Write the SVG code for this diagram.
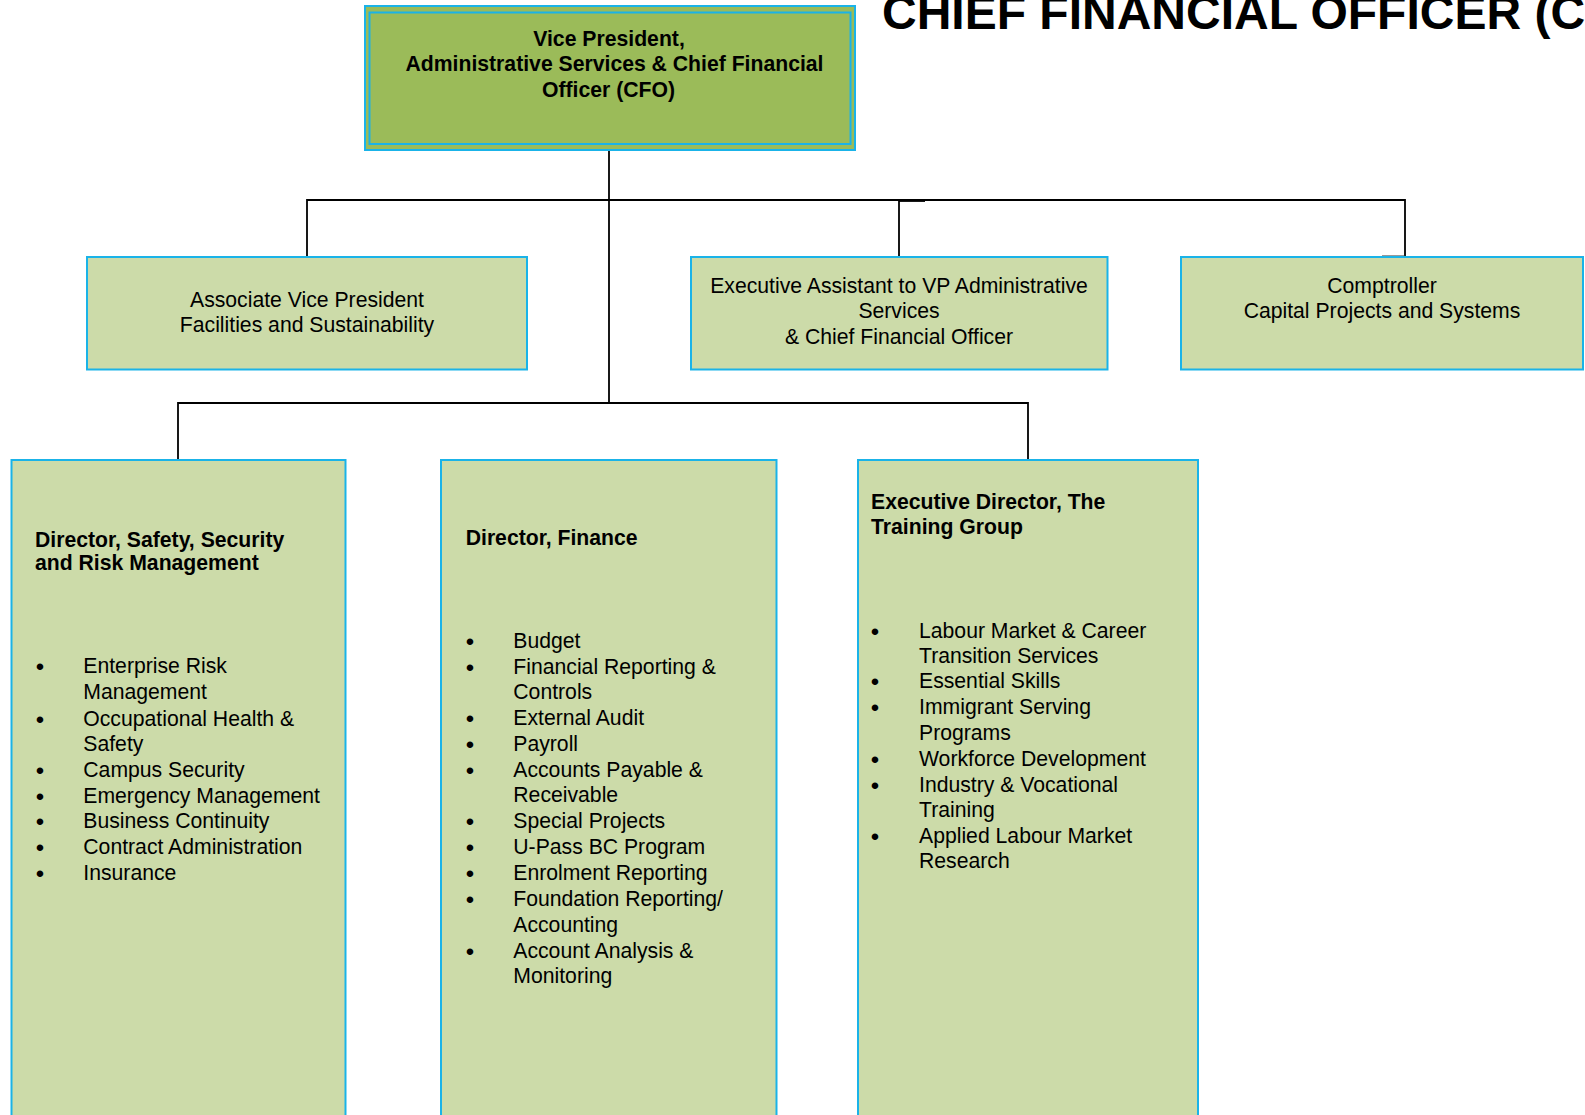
<svg xmlns="http://www.w3.org/2000/svg" width="1585" height="1115" viewBox="0 0 1585 1115">
<style>
.box{fill:#CCDBA9;stroke:#1AB3E8;stroke-width:2}
.top{fill:#9BBB59;stroke:#1AB3E8;stroke-width:2}
.inner{fill:none;stroke:#1AB3E8;stroke-width:2}
.t{font-family:"Liberation Sans",Arial,Helvetica,sans-serif;font-size:21.2px;fill:#000}
.b{font-weight:bold}
.c{text-anchor:middle}
.bul{font-family:"Liberation Sans",Arial,sans-serif;font-size:24px;fill:#000;text-anchor:middle}
.conn{stroke:#000;stroke-width:1.8;fill:none}
.title{font-family:"Liberation Sans",Arial,Helvetica,sans-serif;font-size:48px;font-weight:bold;fill:#000}
</style>
<rect width="1585" height="1115" fill="#fff"/>
<text class="title" x="882" y="28.5">CHIEF FINANCIAL OFFICER (C</text>

<g id="connectors">
<path class="conn" d="M609,150 V403"/>
<path class="conn" d="M307,257 V200 H1405 V257"/>
<path class="conn" d="M899,200 V257"/>
<path class="conn" d="M178,460 V403 H1028 V460"/>
<path d="M899,200.6 H925" stroke="#000" stroke-width="2.6"/>
<path d="M1382,256.5 H1405" stroke="#333" stroke-width="2"/>
</g>

<g id="vp-cfo">
<rect class="top" x="365" y="6" width="490" height="144"/>
<rect class="inner" x="369.5" y="12.5" width="481" height="131.5"/>
<text class="t b c" x="609" y="45.7">Vice President,</text>
<text class="t b c" x="614.5" y="71">Administrative Services &amp; Chief Financial</text>
<text class="t b c" x="608.5" y="96.7">Officer (CFO)</text>
</g>

<g id="avp-facilities">
<rect class="box" x="87" y="257" width="440" height="112.5"/>
<text class="t c" x="307" y="306.7">Associate Vice President</text>
<text class="t c" x="307" y="331.7">Facilities and Sustainability</text>
</g>

<g id="exec-assistant">
<rect class="box" x="691" y="257" width="416.5" height="112.5"/>
<text class="t c" x="899" y="293.3">Executive Assistant to VP Administrative</text>
<text class="t c" x="899" y="318.3">Services</text>
<text class="t c" x="899" y="344.3">&amp; Chief Financial Officer</text>
</g>

<g id="comptroller">
<rect class="box" x="1181" y="257" width="402" height="112.5"/>
<text class="t c" x="1382" y="293.3">Comptroller</text>
<text class="t c" x="1382" y="318.3">Capital Projects and Systems</text>
</g>

<g id="director-safety">
<rect class="box" x="11.5" y="460" width="334" height="680"/>
<text class="t b" x="35" y="546.7">Director, Safety, Security</text>
<text class="t b" x="35" y="570">and Risk Management</text>
<g class="bul">
<text x="40" y="675">•</text>
<text x="40" y="727.5">•</text>
<text x="40" y="778.5">•</text>
<text x="40" y="804.5">•</text>
<text x="40" y="830">•</text>
<text x="40" y="856">•</text>
<text x="40" y="881.5">•</text>
</g>
<text class="t" x="83.3" y="673.3">Enterprise Risk</text>
<text class="t" x="83.3" y="699.3">Management</text>
<text class="t" x="83.3" y="726">Occupational Health &amp;</text>
<text class="t" x="83.3" y="750.7">Safety</text>
<text class="t" x="83.3" y="776.7">Campus Security</text>
<text class="t" x="83.3" y="802.7">Emergency Management</text>
<text class="t" x="83.3" y="828.3">Business Continuity</text>
<text class="t" x="83.3" y="854.3">Contract Administration</text>
<text class="t" x="83.3" y="880">Insurance</text>
</g>

<g id="director-finance">
<rect class="box" x="441" y="460" width="335.5" height="680"/>
<text class="t b" x="465.7" y="545">Director, Finance</text>
<g class="bul">
<text x="470" y="649.5">•</text>
<text x="470" y="675.7">•</text>
<text x="470" y="726.7">•</text>
<text x="470" y="752.5">•</text>
<text x="470" y="778.5">•</text>
<text x="470" y="830">•</text>
<text x="470" y="856">•</text>
<text x="470" y="881.7">•</text>
<text x="470" y="907.7">•</text>
<text x="470" y="959.5">•</text>
</g>
<text class="t" x="513.3" y="647.7">Budget</text>
<text class="t" x="513.3" y="674">Financial Reporting &amp;</text>
<text class="t" x="513.3" y="699.3">Controls</text>
<text class="t" x="513.3" y="725">External Audit</text>
<text class="t" x="513.3" y="750.7">Payroll</text>
<text class="t" x="513.3" y="776.7">Accounts Payable &amp;</text>
<text class="t" x="513.3" y="802.3">Receivable</text>
<text class="t" x="513.3" y="828.3">Special Projects</text>
<text class="t" x="513.3" y="854.3">U-Pass BC Program</text>
<text class="t" x="513.3" y="880">Enrolment Reporting</text>
<text class="t" x="513.3" y="906">Foundation Reporting/</text>
<text class="t" x="513.3" y="931.7">Accounting</text>
<text class="t" x="513.3" y="957.7">Account Analysis &amp;</text>
<text class="t" x="513.3" y="983.3">Monitoring</text>
</g>

<g id="exec-director-training">
<rect class="box" x="858" y="460" width="340" height="680"/>
<text class="t b" x="871" y="509.3">Executive Director, The</text>
<text class="t b" x="871" y="534.3">Training Group</text>
<g class="bul">
<text x="875" y="639.5">•</text>
<text x="875" y="690">•</text>
<text x="875" y="716">•</text>
<text x="875" y="767.7">•</text>
<text x="875" y="794">•</text>
<text x="875" y="845">•</text>
</g>
<text class="t" x="919" y="637.7">Labour Market &amp; Career</text>
<text class="t" x="919" y="662.7">Transition Services</text>
<text class="t" x="919" y="688.3">Essential Skills</text>
<text class="t" x="919" y="714.3">Immigrant Serving</text>
<text class="t" x="919" y="740">Programs</text>
<text class="t" x="919" y="766">Workforce Development</text>
<text class="t" x="919" y="792.3">Industry &amp; Vocational</text>
<text class="t" x="919" y="817.3">Training</text>
<text class="t" x="919" y="843.3">Applied Labour Market</text>
<text class="t" x="919" y="868.3">Research</text>
</g>
</svg>
